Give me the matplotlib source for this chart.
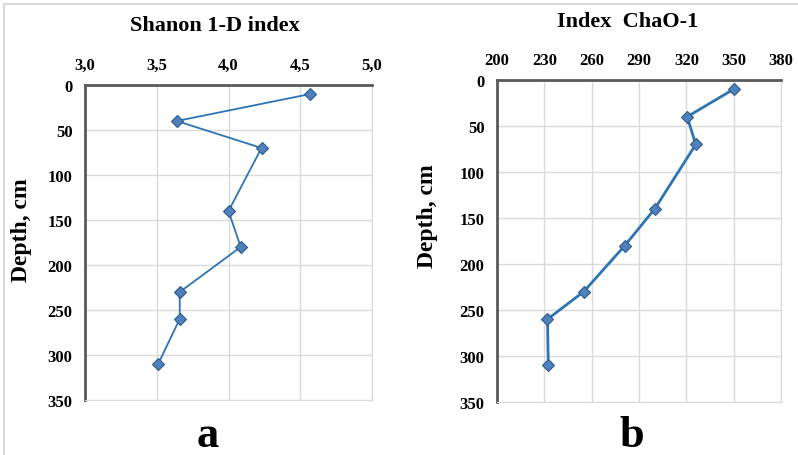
import matplotlib.pyplot as plt
from matplotlib.lines import Line2D
from matplotlib.ticker import FuncFormatter

# profundidades (cm) e indices
depth = [10, 40, 70, 140, 180, 230, 260, 310]
shannon = [4.57, 3.64, 4.23, 4.00, 4.085, 3.66, 3.66, 3.51]
chao = [350, 320.5, 326, 300, 281, 255, 232, 232.5]

shannon_ticks = [3.0, 3.5, 4.0, 4.5, 5.0]
chao_ticks = [200, 230, 260, 290, 320, 350, 380]
depth_ticks = [0, 50, 100, 150, 200, 250, 300, 350]

plt.rcParams['font.family'] = ['Liberation Serif', 'DejaVu Serif']
plt.rcParams['font.weight'] = 'bold'

line_col = '#2e74b5'
mk_face = '#4f81bd'
mk_edge = '#2c5a8a'
grid_col = '#d9d9d9'
spine_col = '#595959'

W, H = 798, 456
fig = plt.figure(figsize=(W / 100, H / 100), dpi=100)

# moldura cinza clara (topo e esquerda)
fig.add_artist(Line2D([4 / W, 4 / W], [0, 1 - 5 / H], transform=fig.transFigure, color='#d9d9d9', lw=1.5))
fig.add_artist(Line2D([4 / W, 1], [1 - 5 / H, 1 - 5 / H], transform=fig.transFigure, color='#d9d9d9', lw=1.5))


def px(x, y):
    return x / W, 1 - y / H


def setup_axis(ax, xticks, xfmt):
    ax.set_xlim(xticks[0], xticks[-1])
    ax.set_ylim(350, 0)
    ax.set_xticks(xticks)
    ax.set_yticks(depth_ticks)
    ax.xaxis.set_major_formatter(FuncFormatter(xfmt))
    ax.xaxis.tick_top()
    ax.tick_params(length=0, labelsize=12, pad=9)
    for lab in ax.get_xticklabels() + ax.get_yticklabels():
        lab.set_fontweight('bold')
    ax.grid(True, color=grid_col, lw=1)
    ax.set_axisbelow(True)
    ax.spines['top'].set_color(spine_col)
    ax.spines['top'].set_linewidth(2)
    ax.spines['left'].set_color(spine_col)
    ax.spines['left'].set_linewidth(2)
    ax.spines['right'].set_color(grid_col)
    ax.spines['bottom'].set_color(grid_col)


ax1 = fig.add_axes([85 / W, 1 - 401 / H, 287 / W, 315 / H])
ax1.plot(shannon, depth, color=line_col, lw=1.3, marker='D', markersize=6,
         markerfacecolor=mk_face, markeredgecolor=mk_edge, markeredgewidth=0.8)
setup_axis(ax1, shannon_ticks, lambda v, p: ('%.1f' % v).replace('.', ','))

ax2 = fig.add_axes([497 / W, 1 - 403 / H, 284 / W, 322 / H])
ax2.plot(chao, depth, color=line_col, lw=2, marker='D', markersize=6,
         markerfacecolor=mk_face, markeredgecolor=mk_edge, markeredgewidth=0.8)
setup_axis(ax2, chao_ticks, lambda v, p: '%d' % v)

# titulos, rotulos e letras
fig.text(*px(215, 26), 'Shanon 1-D index', ha='center', va='center', fontsize=16, fontweight='bold')
fig.text(*px(628, 22), 'Index  ChaO-1', ha='center', va='center', fontsize=16, fontweight='bold')
fig.text(*px(22, 230), 'Depth, cm', ha='center', va='center', rotation=90, fontsize=17, fontweight='bold')
fig.text(*px(428, 216), 'Depth, cm', ha='center', va='center', rotation=90, fontsize=17, fontweight='bold')
fig.text(*px(208, 447), 'a', ha='center', va='baseline', fontsize=32, fontweight='bold')
fig.text(*px(632, 447), 'b', ha='center', va='baseline', fontsize=32, fontweight='bold')

fig.savefig('out.png', dpi=100)
